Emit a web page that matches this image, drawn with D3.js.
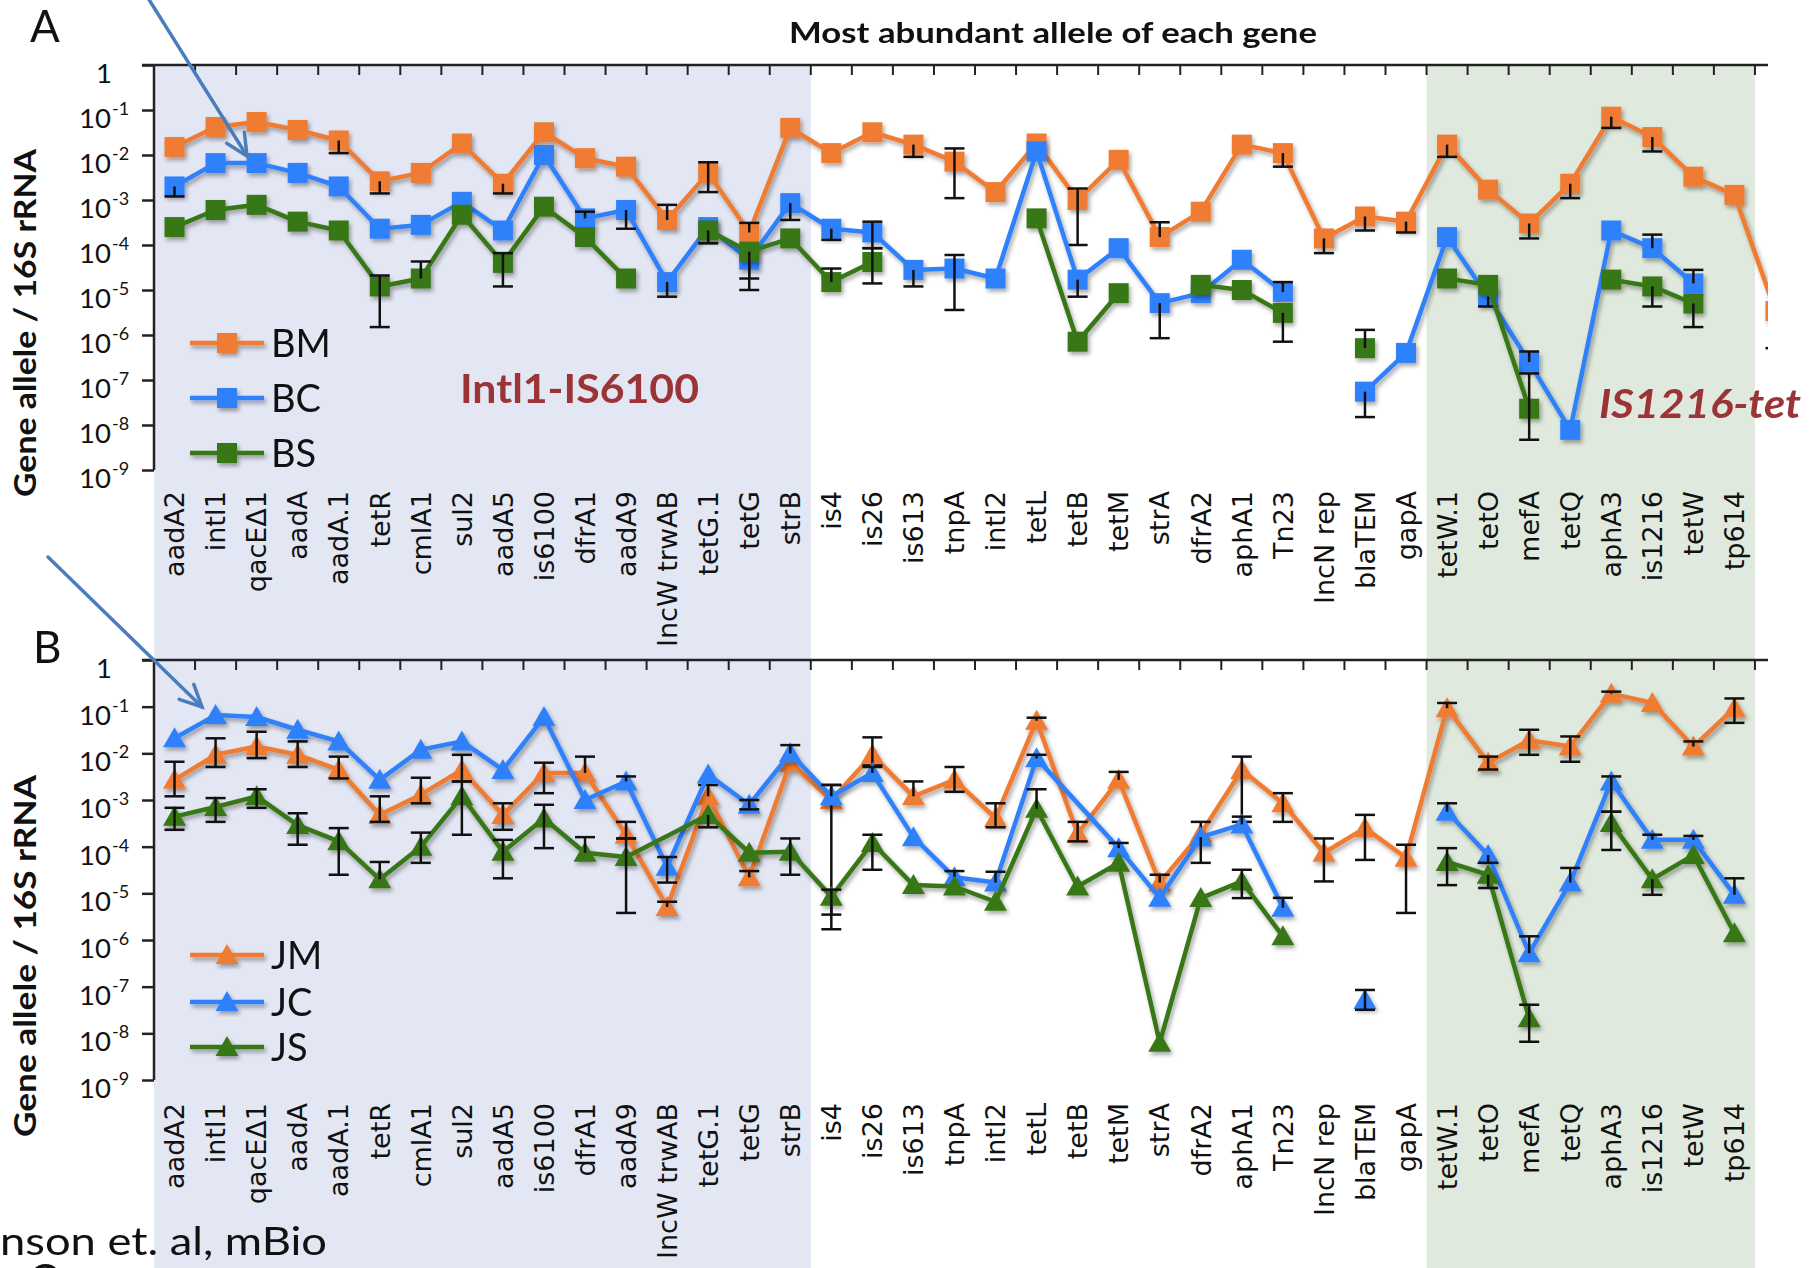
<!DOCTYPE html>
<html>
<head>
<meta charset="utf-8">
<script src="https://cdn.jsdelivr.net/npm/d3@7"></script>
<style>
  body { margin: 0; background: #fff; }
  svg { display: block; }
</style>
</head>
<body>
<div id="chart"></div>
<script>
// genes on the x axis (the 40th is cut off at the right edge of the figure)
const genes = ["aadA2", "intI1", "qacEΔ1", "aadA", "aadA.1", "tetR", "cmlA1", "sul2", "aadA5", "is6100",
  "dfrA1", "aadA9", "IncW trwAB", "tetG.1", "tetG", "strB", "is4", "is26", "is613", "tnpA",
  "intI2", "tetL", "tetB", "tetM", "strA", "dfrA2", "aphA1", "Tn23", "IncN rep", "blaTEM",
  "gapA", "tetW.1", "tetO", "mefA", "tetQ", "aphA3", "is1216", "tetW", "tp614", ""];

// y decades, 10^0 .. 10^-9
const decades = [0, -1, -2, -3, -4, -5, -6, -7, -8, -9];

// null = gap in the line, NaN = missing point that the line is drawn across
// panel A
const bm = [1.5e-2, 4.2e-2, 5.4e-2, 3.6e-2, 2.1e-2, 2.6e-3, 4e-3, 1.8e-2, 2.3e-3, 3.2e-2,
  8.5e-3, 5.5e-3, 3.6e-4, 4e-3, 1.9e-4, 4e-2, 1.1e-2, 3.2e-2, 1.7e-2, 7.1e-3,
  1.5e-3, 1.8e-2, 1e-3, 7.8e-3, 1.5e-4, 5.5e-4, 1.7e-2, 1.1e-2, 1.4e-4, 4.3e-4,
  3.3e-4, 1.7e-2, 1.7e-3, 3e-4, 2.3e-3, 7.1e-2, 2.5e-2, 3.3e-3, 1.3e-3, 3.4e-6];
const bc = [2e-3, 6.6e-3, 6.6e-3, 4e-3, 2e-3, 2.3e-4, 2.8e-4, 9.1e-4, 2.1e-4, 1e-2,
  3.9e-4, 6e-4, 1.5e-5, 2.5e-4, 4.7e-5, 8.5e-4, 2.3e-4, 1.9e-4, 2.8e-5, 3e-5,
  1.8e-5, 1.2e-2, 1.7e-5, 8.5e-5, 5.1e-6, 8.5e-6, 4.7e-5, 9.1e-6, null, 5.5e-8,
  4e-7, 1.5e-4, 7.1e-6, 2.5e-7, 7.8e-9, 2.1e-4, 8.5e-5, 1.4e-5, null, null];
const bs = [2.5e-4, 6e-4, 7.8e-4, 3.3e-4, 2.1e-4, 1.2e-5, 1.8e-5, 4.7e-4, 4e-5, 7.1e-4,
  1.5e-4, 1.8e-5, null, 2.1e-4, 7.1e-5, 1.4e-4, 1.5e-5, 4.2e-5, null, null,
  null, 3.9e-4, 7.1e-7, 8.5e-6, null, 1.3e-5, 1e-5, 3.1e-6, null, 5.1e-7,
  null, 1.8e-5, 1.3e-5, 2.3e-8, null, 1.7e-5, 1.2e-5, 5e-6, null, null];

// panel B
const jm = [2.7e-3, 9.3e-3, 1.4e-2, 9.3e-3, 4.4e-3, 4.8e-4, 1.3e-3, 4.4e-3, 4.8e-4, 3.8e-3,
  3.8e-3, 1.8e-4, 5.1e-6, 1.2e-3, 2.2e-5, 6.3e-3, 1e-3, 9.3e-3, 1.2e-3, 2.7e-3,
  4.1e-4, 5e-2, 1.9e-4, 2.7e-3, 1.7e-5, 1.9e-4, 4.4e-3, 8.5e-4, 7.4e-5, 2.5e-4,
  5.8e-5, 9.3e-2, 6.3e-3, 1.9e-2, 1.4e-2, 1.9e-1, 1.2e-1, 1.4e-2, 9.3e-2, null];
const jc = [2.1e-2, 6.6e-2, 6e-2, 3.2e-2, 1.8e-2, 2.7e-3, 1.2e-2, 1.8e-2, 4.4e-3, 6e-2,
  1e-3, 2.5e-3, 3.7e-5, 3.5e-3, 7.9e-4, 1e-2, 1.2e-3, 3.8e-3, 1.6e-4, 2.2e-5,
  1.7e-5, 7.8e-3, NaN, 9.3e-5, 8e-6, 1.6e-4, 3e-4, 4.9e-6, null, 5.2e-8,
  null, 5.6e-4, 6.6e-5, 5.2e-7, 1.7e-5, 2.5e-3, 1.4e-4, 1.4e-4, 9.3e-6, null];
const js = [4.4e-4, 7.1e-4, 1.2e-3, 2.9e-4, 1.3e-4, 2e-5, 1e-4, 1.2e-3, 7.8e-5, 4e-4,
  7.4e-5, 6e-5, NaN, 4.8e-4, 7.4e-5, 7.8e-5, 8.5e-6, 1.2e-4, 1.5e-5, 1.4e-5,
  6.6e-6, 6.5e-4, 1.4e-5, 4.5e-5, 6.3e-9, 7.9e-6, 1.8e-5, 1.2e-6, null, null,
  null, 4.7e-5, 2.5e-5, 2.1e-8, null, 3.2e-4, 2e-5, 6.6e-5, 1.4e-6, null];

// error bars: [gene index, lower end, upper end] (null = end hidden under the marker)
const errBM = [[4, 1.1e-2, null], [5, 1.4e-3, null], [8, 1.4e-3, null], [12, null, 7.8e-4],
  [13, 1.5e-3, 6.9e-3], [14, null, 3.1e-4], [18, 9.1e-3, null], [19, 1.1e-3, 1.4e-2],
  [22, 1e-4, 1.8e-3], [24, null, 3.2e-4], [27, 5.5e-3, null], [28, 6.6e-5, null],
  [29, 2.1e-4, null], [30, 1.9e-4, null], [31, 9.1e-3, null], [33, 1.4e-4, null],
  [34, 1.1e-3, null], [35, 4e-2, null], [36, 1.2e-2, null], [39, 5.1e-7, null]];
const errBC = [[0, 1.2e-3, null], [10, null, 5.5e-4], [11, 2.3e-4, null], [12, 7.1e-6, null],
  [13, 1.1e-4, null], [14, 1.8e-5, null], [15, 3.6e-4, null], [16, 1.3e-4, null],
  [17, 8.5e-5, 3.3e-4], [18, 1.2e-5, null], [19, 3.6e-6, 6e-5], [22, 7.1e-6, null],
  [24, 8.5e-7, null], [27, null, 1.5e-5], [29, 1.5e-8, null], [32, 4.3e-6, null],
  [33, null, 4.3e-7], [36, null, 1.7e-4], [37, null, 2.8e-5]];
const errBS = [[5, 1.5e-6, 2.1e-5], [6, null, 4.3e-5], [8, 1.2e-5, 6.6e-5], [13, 1.1e-4, null],
  [14, 1e-5, null], [16, null, 3e-5], [17, 1.4e-5, 8.5e-5], [27, 7.1e-7, null],
  [29, null, 1.3e-6], [33, 4.7e-9, 1.4e-7], [36, 4.3e-6, null], [37, 1.5e-6, null]];
const errJM = [[0, 1.2e-3, 6.6e-3], [1, 5.1e-3, 2.1e-2], [2, 7.9e-3, 2.9e-2], [3, 5.1e-3, 1.8e-2],
  [4, 2.9e-3, 8.5e-3], [5, 3.4e-4, 1.2e-3], [6, 8.5e-4, 3e-3], [7, 2.5e-3, 9.3e-3],
  [8, 2.3e-4, 8.5e-4], [9, 1.4e-3, 6.3e-3], [10, null, 8.5e-3], [11, 1.5e-4, 3.4e-4],
  [12, null, 6.6e-6], [13, null, 2.1e-3], [14, null, 3e-5], [16, 1.7e-6, 2.1e-3],
  [17, 5.5e-3, 2.2e-2], [18, null, 2.5e-3], [19, 1.5e-3, 5.1e-3], [20, 2.6e-4, 8.5e-4],
  [21, null, 5.8e-2], [22, 1.3e-4, 3.4e-4], [23, null, 4e-3], [24, null, 2.5e-5],
  [25, null, 3.4e-4], [26, 3.4e-4, 8.5e-3], [27, 3.4e-4, 1.4e-3], [28, 1.8e-5, 1.5e-4],
  [29, 5.2e-5, 4.8e-4], [30, 3.8e-6, 1.1e-4], [31, null, 1.2e-1], [32, 4.5e-3, 8.5e-3],
  [33, 9.3e-3, 3.2e-2], [34, 6.6e-3, 2.3e-2], [35, null, 2.1e-1], [37, null, 1.8e-2],
  [38, 4.5e-2, 1.5e-1]];
const errJC = [[11, null, 3.2e-3], [12, 1.7e-5, 6e-5], [14, 6.3e-4, 1e-3], [15, null, 1.5e-2],
  [16, null, 2.1e-3], [17, null, 5.1e-3], [19, null, 3e-5], [20, null, 2.9e-5],
  [21, null, 9.3e-3], [23, null, 1.2e-4], [25, 4.5e-5, null], [26, null, 4.4e-4],
  [27, null, 8e-6], [29, 3.2e-8, 8.5e-8], [31, null, 8.5e-4], [32, 4.5e-5, null],
  [33, null, 1.2e-6], [34, null, 3.5e-5], [35, 5.6e-4, 3.2e-3], [36, null, 1.8e-4],
  [37, null, 1.7e-4], [38, null, 2.1e-5]];
const errJS = [[0, 2.3e-4, 6.8e-4], [1, 3.4e-4, 1.1e-3], [2, 6.8e-4, 1.7e-3], [3, 1.1e-4, 5.2e-4],
  [4, 2.5e-5, 2.5e-4], [5, null, 4.7e-5], [6, 4.5e-5, 2e-4], [7, 1.8e-4, 2.5e-3],
  [8, 2.1e-5, 1.4e-4], [9, 9.3e-5, 7.9e-4], [10, null, 1.6e-4], [11, 3.8e-6, 1.5e-4],
  [13, 2.6e-4, null], [15, 2.5e-5, 1.5e-4], [16, 3.5e-6, 1.2e-5], [17, 3.2e-5, 1.8e-4],
  [21, null, 1.7e-3], [26, 7.9e-6, 3.2e-5], [31, 1.5e-5, 9.3e-5], [32, 1.3e-5, null],
  [33, 6.6e-9, 4.1e-8], [35, 8.5e-5, 5.6e-4], [36, 9.3e-6, null]];

const ORANGE = "#ef7b30", BLUE = "#2f80fb", GREEN = "#387716";
const W = 1811, H = 1268;
const FONT = "Lato, 'Open Sans', sans-serif";

const svg = d3.select("#chart").append("svg")
  .attr("width", W).attr("height", H)
  .style("font-family", FONT);

const defs = svg.append("defs");
defs.append("filter").attr("id", "shadow")
  .attr("x", "-30%").attr("y", "-30%").attr("width", "160%").attr("height", "160%")
  .append("feDropShadow")
  .attr("dx", 2).attr("dy", 3).attr("stdDeviation", 2)
  .attr("flood-color", "#000").attr("flood-opacity", 0.35);
// the figure is cut off on the right
defs.append("clipPath").attr("id", "clip")
  .append("rect").attr("x", 0).attr("y", 0).attr("width", 1768).attr("height", H);

const x = d3.scaleBand()
  .domain(d3.range(genes.length))
  .range([154, 154 + 41.05 * genes.length]);
const cx = i => x(i) + x.bandwidth() / 2;

// shaded gene groups, they run through both panels
const shade = svg.append("g").attr("clip-path", "url(#clip)");
shade.append("rect")
  .attr("x", x(0)).attr("y", 65)
  .attr("width", x(16) - x(0)).attr("height", H - 65)
  .attr("fill", "#e3e6f3");
shade.append("rect")
  .attr("x", x(31)).attr("y", 65)
  .attr("width", x(39) - x(31)).attr("height", H - 65)
  .attr("fill", "#e0e9dd");

const panels = [
  {
    top: 65, bottom: 470, labelTop: 491, marker: "square",
    series: [
      { name: "BM", values: bm, err: errBM, color: ORANGE },
      { name: "BC", values: bc, err: errBC, color: BLUE },
      { name: "BS", values: bs, err: errBS, color: GREEN }
    ],
    legendY: [343, 398, 453], titleY: 323, titleLen: 348
  },
  {
    top: 660, bottom: 1080, labelTop: 1103, marker: "triangle",
    series: [
      { name: "JM", values: jm, err: errJM, color: ORANGE },
      { name: "JC", values: jc, err: errJC, color: BLUE },
      { name: "JS", values: js, err: errJS, color: GREEN }
    ],
    legendY: [955, 1002, 1047], titleY: 956, titleLen: 362
  }
];

function drawMarker(sel, kind, color) {
  if (kind === "square") {
    sel.append("rect")
      .attr("x", -10).attr("y", -10).attr("width", 20).attr("height", 20)
      .attr("fill", color);
  } else {
    sel.append("path")
      .attr("d", "M0,-11L11.5,9L-11.5,9Z")
      .attr("fill", color);
  }
}

panels.forEach(p => {
  const y = d3.scaleLog().domain([1e-9, 1]).range([p.bottom, p.top]);
  const g = svg.append("g");

  // left axis with decade ticks
  const yAxis = g.append("g")
    .attr("transform", `translate(${x(0)},0)`)
    .call(d3.axisLeft(y)
      .tickValues(decades.map(e => Math.pow(10, e)))
      .tickSize(12)
      .tickFormat(""));
  yAxis.select(".domain").attr("stroke", "#222").attr("stroke-width", 2.5).attr("d", `M0,${p.top}V${p.bottom}`);
  yAxis.selectAll(".tick line").attr("stroke", "#222").attr("stroke-width", 2.5);

  // decade labels: 1, 10^-1 ... 10^-9
  decades.forEach(e => {
    const ty = y(Math.pow(10, e));
    if (e === 0) {
      g.append("text").attr("x", 112).attr("y", ty + 18)
        .attr("text-anchor", "end").attr("font-size", 27.5).attr("fill", "#111")
        .text("1");
    } else {
      g.append("text").attr("x", 111).attr("y", ty + 18)
        .attr("text-anchor", "end").attr("font-size", 27.5).attr("fill", "#111")
        .text("10");
      g.append("text").attr("x", 112).attr("y", ty + 5)
        .attr("font-size", 18).attr("fill", "#111")
        .text("-" + (-e));
    }
  });

  // category axis along the top, ticks at band edges
  const top = g.append("g").attr("clip-path", "url(#clip)");
  top.append("line")
    .attr("x1", x(0) - 12).attr("x2", 1780)
    .attr("y1", p.top).attr("y2", p.top)
    .attr("stroke", "#222").attr("stroke-width", 2.5);
  top.selectAll("line.tick")
    .data(d3.range(genes.length + 1))
    .join("line")
    .attr("class", "tick")
    .attr("x1", i => x(0) + i * x.step()).attr("x2", i => x(0) + i * x.step())
    .attr("y1", p.top).attr("y2", p.top + 10)
    .attr("stroke", "#222").attr("stroke-width", 2);

  // gene names below the plot, rotated
  g.selectAll("text.gene")
    .data(genes)
    .join("text")
    .attr("class", "gene")
    .attr("transform", (d, i) => `translate(${cx(i)},${p.labelTop}) rotate(-90)`)
    .attr("dy", "0.36em")
    .attr("text-anchor", "end")
    .attr("font-family", "'DejaVu Sans', Verdana, sans-serif")
    .attr("font-size", 27)
    .attr("fill", "#111")
    .text(d => d);

  // y axis title
  g.append("text")
    .attr("transform", `translate(25,${p.titleY}) rotate(-90)`)
    .attr("dy", "0.36em")
    .attr("text-anchor", "middle")
    .attr("font-size", 30).attr("font-weight", 700).attr("fill", "#111")
    .attr("textLength", p.titleLen).attr("lengthAdjust", "spacingAndGlyphs")
    .text("Gene allele / 16S rRNA");

  // series
  const line = d3.line()
    .defined(d => d.v !== null)
    .x(d => cx(d.i))
    .y(d => y(d.v));

  const plot = g.append("g").attr("clip-path", "url(#clip)");
  p.series.forEach(s => {
    const pts = s.values.map((v, i) => ({ i, v })).filter(d => !Number.isNaN(d.v));
    const sg = plot.append("g");
    const shaded = sg.append("g").attr("filter", "url(#shadow)");
    shaded.append("path")
      .datum(pts)
      .attr("d", line)
      .attr("fill", "none")
      .attr("stroke", s.color)
      .attr("stroke-width", 4.5)
      .attr("stroke-linejoin", "round");
    shaded.selectAll("g.mk")
      .data(pts.filter(d => d.v !== null))
      .join("g")
      .attr("class", "mk")
      .attr("transform", d => `translate(${cx(d.i)},${y(d.v)})`)
      .each(function () { drawMarker(d3.select(this), p.marker, s.color); });

    // error bars
    const eb = sg.append("g").attr("stroke", "#111").attr("stroke-width", 2.5);
    s.err.forEach(([i, lo, hi]) => {
      const v = s.values[i];
      const xi = cx(i);
      const y0 = y(lo !== null ? lo : v), y1 = y(hi !== null ? hi : v);
      eb.append("line").attr("x1", xi).attr("x2", xi).attr("y1", y0).attr("y2", y1);
      [lo, hi].forEach(e => {
        if (e === null) return;
        eb.append("line")
          .attr("x1", xi - 10).attr("x2", xi + 10)
          .attr("y1", y(e)).attr("y2", y(e));
      });
    });
  });

  // legend
  p.series.forEach((s, k) => {
    const ly = p.legendY[k];
    const lg = g.append("g");
    const sh = lg.append("g").attr("filter", "url(#shadow)");
    sh.append("line")
      .attr("x1", 190).attr("x2", 264).attr("y1", ly).attr("y2", ly)
      .attr("stroke", s.color).attr("stroke-width", 4.5);
    drawMarker(sh.append("g").attr("transform", `translate(227,${ly})`), p.marker, s.color);
    lg.append("text")
      .attr("x", 271).attr("y", ly).attr("dy", "0.36em")
      .attr("font-size", 38).attr("fill", "#111")
      .text(s.name);
  });
});

// panel letters, title and notes
svg.append("text").attr("x", 30).attr("y", 42)
  .attr("font-size", 44).attr("fill", "#111").text("A");
svg.append("text").attr("x", 33).attr("y", 663)
  .attr("font-size", 44).attr("fill", "#111").text("B");
svg.append("text").attr("x", 789).attr("y", 43)
  .attr("font-size", 28).attr("font-weight", 700).attr("fill", "#111")
  .attr("textLength", 528).attr("lengthAdjust", "spacingAndGlyphs")
  .text("Most abundant allele of each gene");
svg.append("text").attr("x", 460).attr("y", 403)
  .attr("font-size", 41).attr("font-weight", 700).attr("fill", "#9a3436")
  .attr("textLength", 239).attr("lengthAdjust", "spacingAndGlyphs")
  .text("Intl1-IS6100");
svg.append("text").attr("x", 1599).attr("y", 418)
  .attr("font-size", 41).attr("font-weight", 700).attr("font-style", "italic").attr("fill", "#9a3436")
  .attr("textLength", 202).attr("lengthAdjust", "spacingAndGlyphs")
  .text("IS1216-tet");
svg.append("text").attr("x", 0).attr("y", 1255)
  .attr("font-size", 38).attr("fill", "#111")
  .attr("textLength", 327).attr("lengthAdjust", "spacingAndGlyphs")
  .text("nson et. al, mBio");
svg.append("text").attr("x", 28).attr("y", 1296)
  .attr("font-size", 44).attr("fill", "#111").text("C");

// blue pointer arrows
function arrow(x1, y1, x2, y2) {
  const a = Math.atan2(y2 - y1, x2 - x1), len = 24, spread = 0.45;
  const ag = svg.append("g").attr("stroke", "#4a7ebb").attr("stroke-width", 3.5)
    .attr("fill", "none").attr("stroke-linecap", "round");
  ag.append("line").attr("x1", x1).attr("y1", y1).attr("x2", x2).attr("y2", y2);
  ag.append("path").attr("d",
    `M${x2 - len * Math.cos(a - spread)},${y2 - len * Math.sin(a - spread)}` +
    `L${x2},${y2}` +
    `L${x2 - len * Math.cos(a + spread)},${y2 - len * Math.sin(a + spread)}`);
}
arrow(148, -2, 247, 156);
arrow(48, 557, 202, 707);
</script>
</body>
</html>
